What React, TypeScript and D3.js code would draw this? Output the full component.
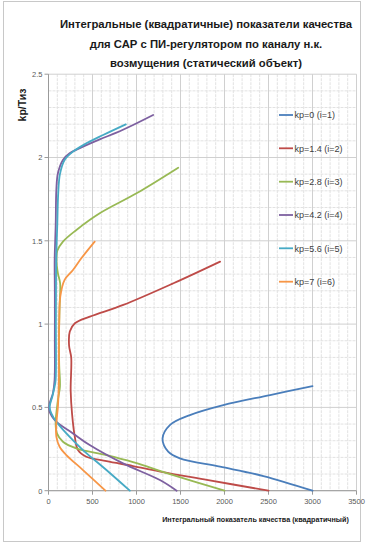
import React from "react";
import * as d3 from "d3";

const seriesNames = ["kp=0 (i=1)", "kp=1.4 (i=2)", "kp=2.8 (i=3)", "kp=4.2 (i=4)", "kp=5.6 (i=5)", "kp=7 (i=6)"];
const seriesColors = ["#4A7EBB", "#BE4B48", "#98B954", "#7D60A0", "#46AAC5", "#F79646"];

// kp=0
const s1x = [3000, 2442, 1949, 1493, 1360, 1296, 1379, 1607, 1986, 2518, 3000];
const s1y = [0, 0.088, 0.144, 0.194, 0.234, 0.314, 0.394, 0.454, 0.514, 0.574, 0.628];
// kp=1.4
const s2x = [2500, 1800, 1270, 960, 660, 430, 335, 300, 268, 252, 258, 234, 242, 300, 470, 850, 1420, 1950];
const s2y = [0, 0.065, 0.115, 0.148, 0.178, 0.204, 0.244, 0.32, 0.46, 0.6, 0.8, 0.87, 0.955, 1.005, 1.045, 1.115, 1.245, 1.375];
// kp=2.8
const s3x = [2000, 1380, 960, 658, 316, 164, 96, 81, 107, 130, 122, 118, 126, 132, 107, 92, 100, 164, 317, 582, 1000, 1474];
const s3y = [0, 0.1, 0.172, 0.214, 0.254, 0.294, 0.344, 0.404, 0.544, 0.624, 0.75, 0.905, 1.105, 1.245, 1.305, 1.37, 1.44, 1.495, 1.565, 1.665, 1.785, 1.939];
// kp=4.2
const s4x = [1456, 1266, 847, 468, 278, 89, 13, 13, 50, 69, 72, 72, 70, 82, 89, 107, 164, 240, 392, 582, 772, 961, 1189];
const s4y = [0, 0.064, 0.164, 0.274, 0.344, 0.414, 0.474, 0.524, 0.584, 0.664, 0.9, 1.2, 1.385, 1.6, 1.805, 1.905, 1.985, 2.025, 2.065, 2.109, 2.149, 2.195, 2.255];
// kp=5.6
const s5x = [924, 658, 392, 203, 89, 32, 13, 43, 69, 81, 84, 88, 100, 110, 130, 183, 278, 430, 620, 878];
const s5y = [0, 0.124, 0.244, 0.344, 0.414, 0.464, 0.504, 0.564, 0.624, 0.664, 1.0, 1.4, 1.6, 1.78, 1.9, 1.985, 2.035, 2.085, 2.135, 2.199];
// kp=7
const s6x = [647, 392, 203, 126, 89, 89, 107, 118, 118, 122, 134, 183, 278, 373, 525];
const s6y = [0, 0.124, 0.214, 0.264, 0.324, 0.404, 0.504, 0.664, 0.85, 1.005, 1.165, 1.265, 1.325, 1.395, 1.495];

const seriesX = [s1x, s2x, s3x, s4x, s5x, s6x];
const seriesY = [s1y, s2y, s3y, s4y, s5y, s6y];

const xTicks = [0, 500, 1000, 1500, 2000, 2500, 3000, 3500];
const yTicks = [0, 0.5, 1, 1.5, 2, 2.5];
const yTickLabels = ["0", "0.5", "1", "1.5", "2", "2.5"];

const titleLines = [
  "Интегральные (квадратичные) показатели качества",
  "для САР с ПИ-регулятором по каналу н.к.",
  "возмущения (статический объект)",
];
const xTitle = "Интегральный показатель качества (квадратичный)";
const yTitle = "kp/Тиз";

export default function App() {
  const W = 370, H = 548;
  const x = d3.scaleLinear().domain([0, 3500]).range([48.5, 356.5]);
  const y = d3.scaleLinear().domain([0, 2.5]).range([490.7, 74.2]);
  const minorX = d3.range(0, 3501, 100).filter((v) => v % 500 !== 0);
  const minorY = d3.range(0, 26).map((i) => i / 10).filter((v) => Math.abs(v * 2 - Math.round(v * 2)) > 1e-6);
  const line = d3
    .line<[number, number]>()
    .x((d) => x(d[0]))
    .y((d) => y(d[1]))
    .curve(d3.curveCatmullRom.alpha(0.5));
  const font = "'Liberation Sans', Arial, sans-serif";
  const titleBase = [28, 47.5, 66.7];
  const legendY = [115, 148.3, 181.7, 215, 248.3, 281.7];

  return (
    <div style={{ position: "fixed", left: 0, top: 0, width: W, height: H, background: "#fff" }}>
      <svg width={W} height={H} style={{ display: "block" }} fontFamily={font}>
        <rect x={0} y={0} width={W} height={H} fill="#fff" />
        <rect x={3.5} y={1.5} width={357} height={540} fill="none" stroke="#c8c8c8" strokeWidth={1} />
        {/* minor grid */}
        {minorX.map((v) => (
          <line key={"mx" + v} x1={x(v)} x2={x(v)} y1={y(2.5)} y2={y(0)} stroke="#e2e2e2" strokeWidth={1} strokeDasharray="3,1" />
        ))}
        {minorY.map((v) => (
          <line key={"my" + v} x1={x(0)} x2={x(3500)} y1={y(v)} y2={y(v)} stroke="#e2e2e2" strokeWidth={1} strokeDasharray="3,1" />
        ))}
        {/* major grid */}
        {xTicks.map((v) => (
          <line key={"gx" + v} x1={x(v)} x2={x(v)} y1={y(2.5)} y2={y(0)} stroke="#d0d0d0" strokeWidth={1} />
        ))}
        {yTicks.map((v) => (
          <line key={"gy" + v} x1={x(0)} x2={x(3500)} y1={y(v)} y2={y(v)} stroke="#d0d0d0" strokeWidth={1} />
        ))}
        {/* axes */}
        <line x1={x(0)} x2={x(0)} y1={y(2.5)} y2={y(0)} stroke="#9a9a9a" />
        <line x1={x(0)} x2={x(3500)} y1={y(0)} y2={y(0)} stroke="#9a9a9a" />
        {yTicks.map((v, i) => (
          <g key={"yt" + v}>
            <line x1={x(0) - 4} x2={x(0)} y1={y(v)} y2={y(v)} stroke="#9a9a9a" />
            <text x={x(0) - 6} y={y(v) + 2.8} fontSize={7.5} fill="#595959" textAnchor="end">
              {yTickLabels[i]}
            </text>
          </g>
        ))}
        {xTicks.map((v) => (
          <g key={"xt" + v}>
            <line x1={x(v)} x2={x(v)} y1={y(0)} y2={y(0) + 4} stroke="#9a9a9a" />
            <text x={x(v)} y={y(0) + 13} fontSize={7.5} fill="#595959" textAnchor="middle">
              {v}
            </text>
          </g>
        ))}
        {/* series */}
        {seriesX.map((xs, i) => {
          const pts: [number, number][] = xs.map((v, j) => [v, seriesY[i][j]]);
          return (
            <path key={"s" + i} d={line(pts) || ""} fill="none" stroke={seriesColors[i]} strokeWidth={1.8} strokeLinejoin="round" strokeLinecap="round" />
          );
        })}
        {/* legend */}
        {seriesNames.map((n, i) => (
          <g key={"lg" + i}>
            <line x1={279} x2={293} y1={legendY[i]} y2={legendY[i]} stroke={seriesColors[i]} strokeWidth={1.8} />
            <text x={294.5} y={legendY[i] + 3.2} fontSize={9} fill="#404040">
              {n}
            </text>
          </g>
        ))}
        {/* titles */}
        {titleLines.map((t, i) => (
          <text key={"t" + i} x={206} y={titleBase[i]} fontSize={11.3} fontWeight="bold" fill="#1a1a1a" textAnchor="middle">
            {t}
          </text>
        ))}
        <text x={255.5} y={522} fontSize={7.2} fontWeight="bold" fill="#1a1a1a" textAnchor="middle">
          {xTitle}
        </text>
        <text transform="translate(25.5,105) rotate(-90)" fontSize={10.5} fontWeight="bold" fill="#1a1a1a" textAnchor="middle">
          {yTitle}
        </text>
      </svg>
    </div>
  );
}
